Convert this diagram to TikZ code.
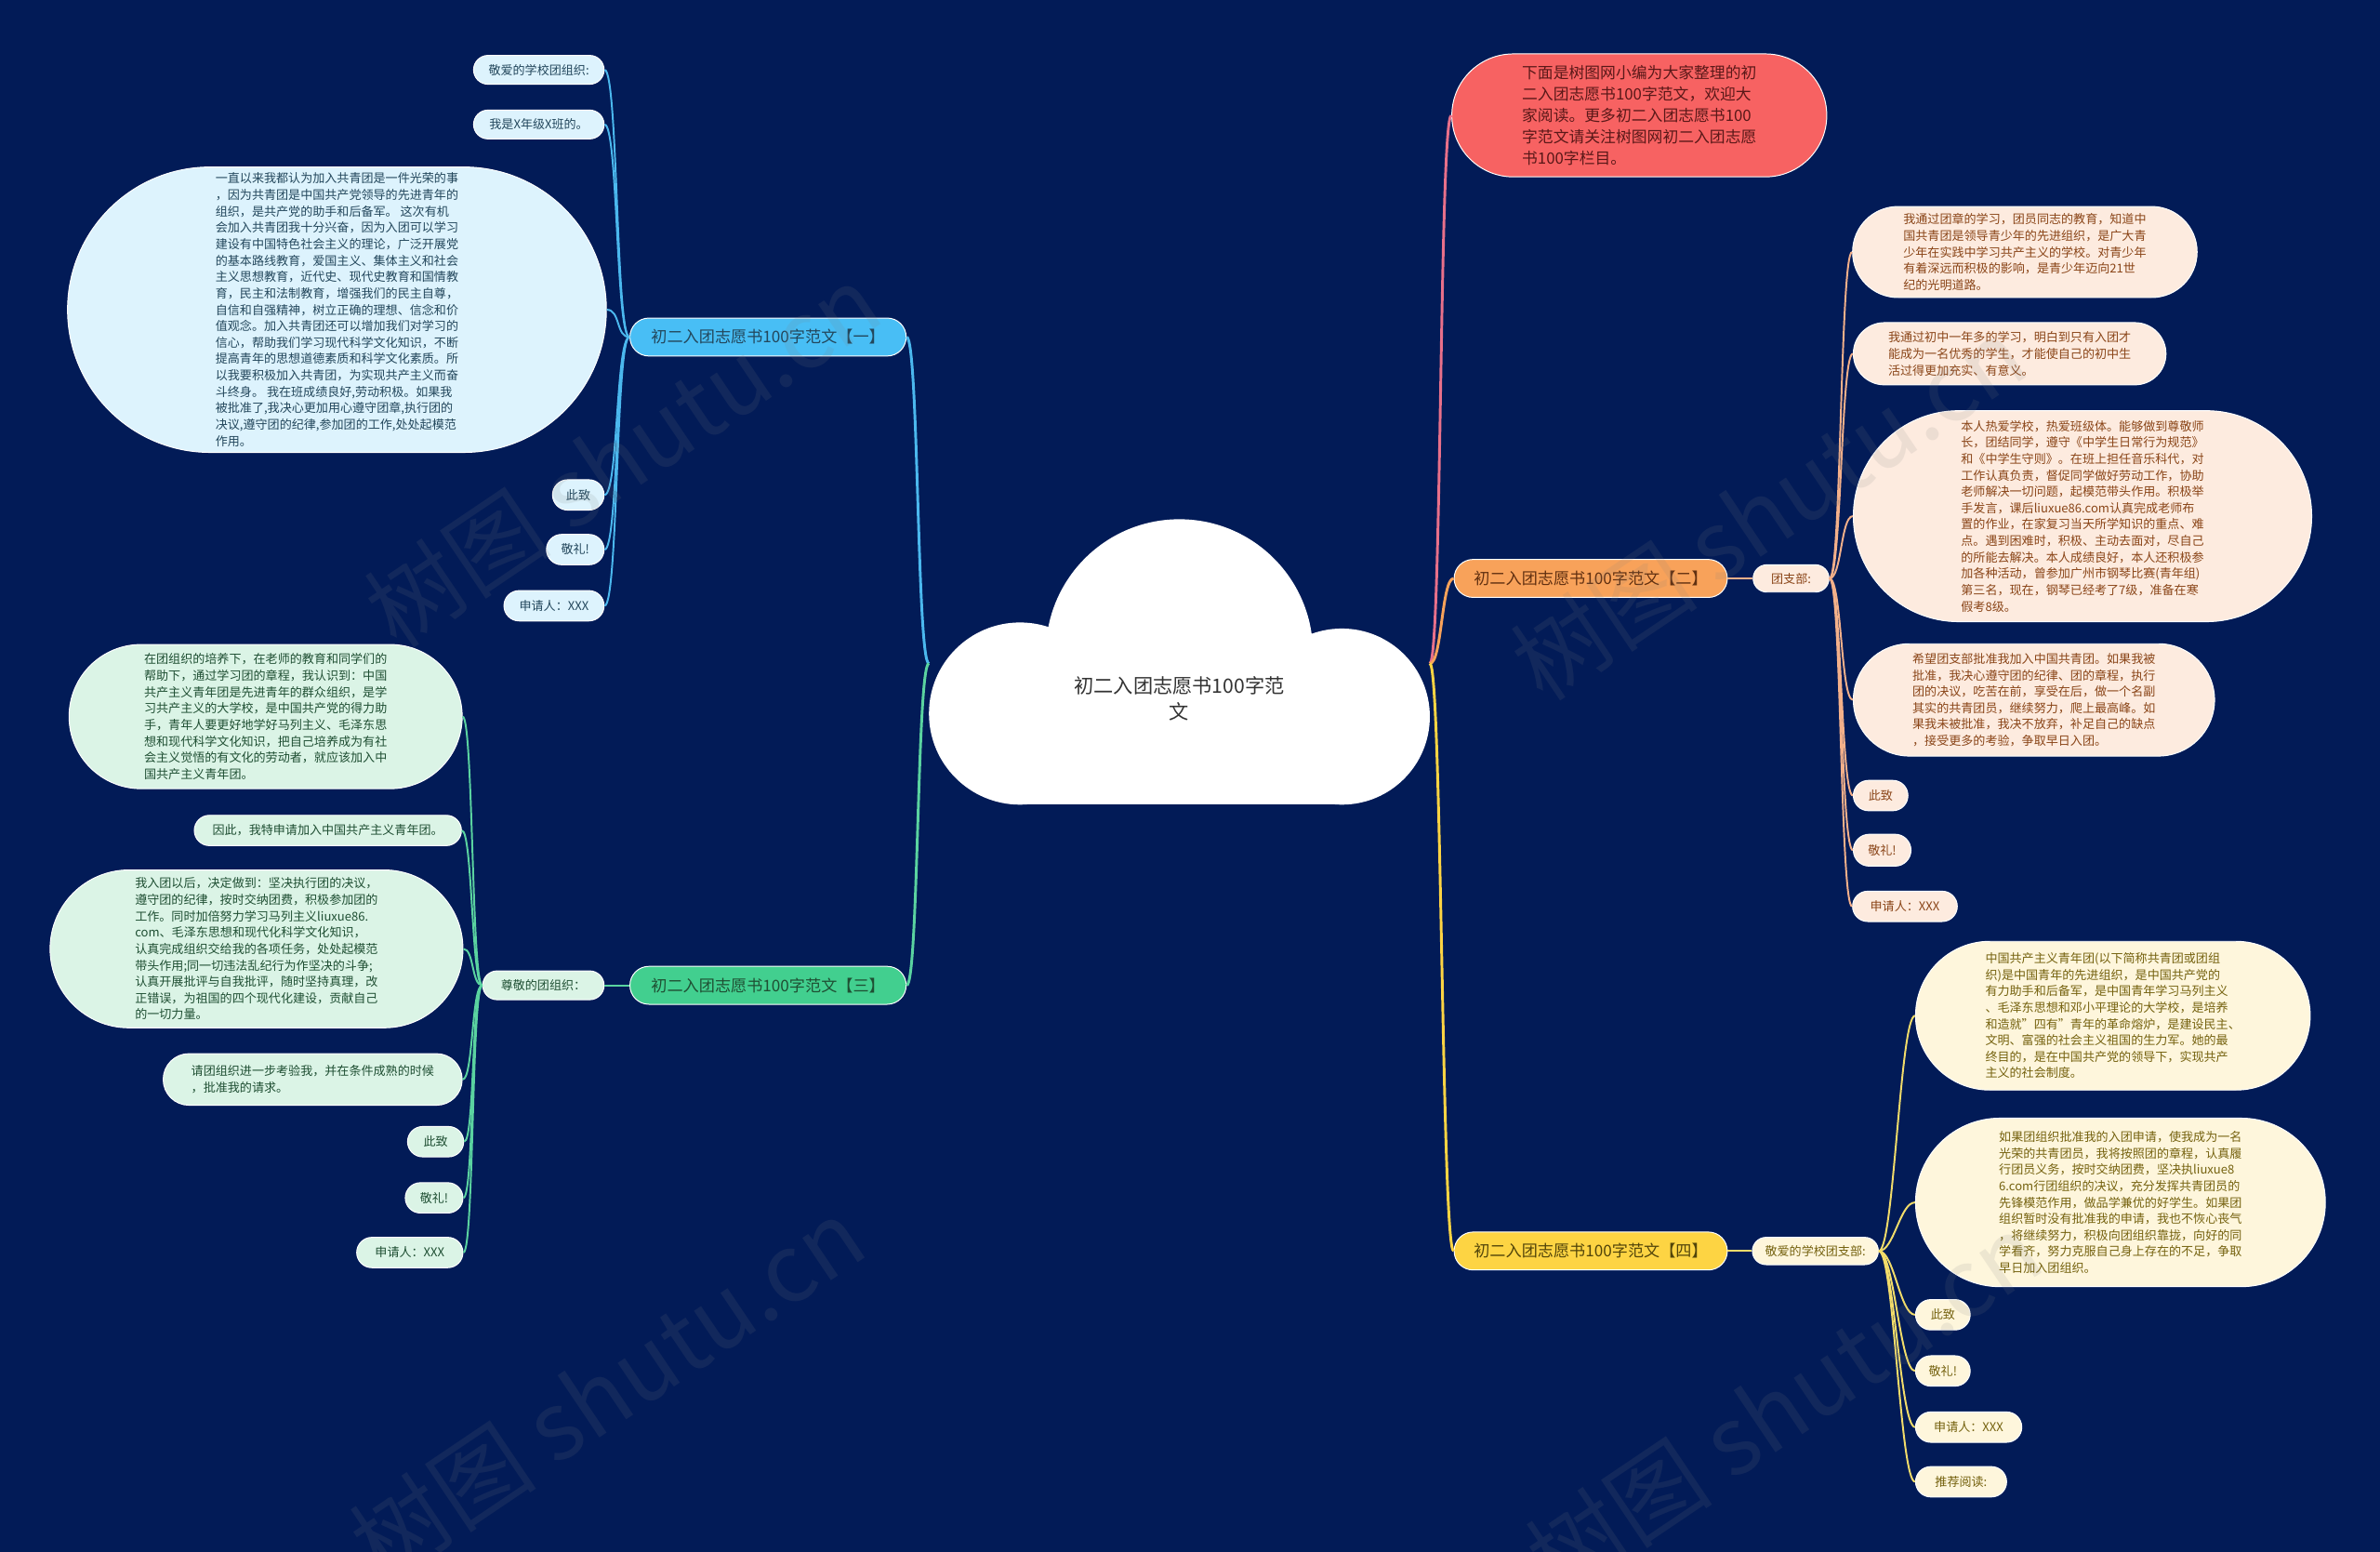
\documentclass[tikz,border=0pt]{standalone}
\usepackage{fontspec}
\setmainfont{Noto Sans CJK SC}
\usetikzlibrary{shapes.misc}
\definecolor{bgc}{HTML}{021B57}
\definecolor{bluef}{HTML}{48BEF5}
\definecolor{bluep}{HTML}{DDF3FD}
\definecolor{bluet}{HTML}{23475C}
\definecolor{bluel}{HTML}{4BB8EE}
\definecolor{greenf}{HTML}{42CF8F}
\definecolor{greenp}{HTML}{DBF4E6}
\definecolor{greent}{HTML}{1F4F33}
\definecolor{greenl}{HTML}{5AD3A0}
\definecolor{redf}{HTML}{F76262}
\definecolor{redt}{HTML}{5A1818}
\definecolor{redl}{HTML}{E8708A}
\definecolor{orangef}{HTML}{F8A25A}
\definecolor{orangep}{HTML}{FDEBDF}
\definecolor{oranget}{HTML}{8A4518}
\definecolor{orangel}{HTML}{F3B08A}
\definecolor{yellowf}{HTML}{FDD443}
\definecolor{yellowp}{HTML}{FEF6DC}
\definecolor{yellowt}{HTML}{75620F}
\definecolor{yellowl}{HTML}{F2DC6A}
\newcommand\fsmall{\fontsize{8}{10.8}\selectfont}
\newcommand\fbranch{\fontsize{10.5}{12}\selectfont}
\newcommand\fcenter{\fontsize{13}{17}\selectfont}
\newcommand\fredtxt{\fontsize{10.3}{14}\selectfont}
\newcommand\fwm{\fontsize{62}{62}\selectfont}
\tikzset{
  pill/.style={rounded rectangle, inner sep=0pt, align=left, draw=white, line width=0.6pt},
  bluebr/.style={pill, fill=bluef, text=bluet, font=\fbranch},
  bluech/.style={pill, fill=bluep, text=bluet, font=\fsmall},
  greenbr/.style={pill, fill=greenf, text=greent, font=\fbranch},
  greench/.style={pill, fill=greenp, text=greent, font=\fsmall},
  redbr/.style={pill, fill=redf, text=redt, font=\fredtxt},
  orangebr/.style={pill, fill=orangef, text=oranget!70!black, font=\fbranch},
  orangech/.style={pill, fill=orangep, text=oranget, font=\fsmall},
  yellowbr/.style={pill, fill=yellowf, text=yellowt!70!black, font=\fbranch},
  yellowch/.style={pill, fill=yellowp, text=yellowt, font=\fsmall},
  mainln/.style={line width=1.8pt},
  childln/.style={line width=1.2pt},
  wmark/.style={text=gray, opacity=0.13, font=\fwm, rotate=34}
}
\begin{document}
\begin{tikzpicture}[x=1pt,y=-1pt]
\fill[bgc] (0,0) rectangle (1568,1022);
\useasboundingbox (0,0) rectangle (1568,1022);

% central cloud
\fill[white] (777,430) circle[radius=88pt];
\fill[white] (672,470) circle[radius=60pt];
\fill[white] (884,472) circle[radius=58pt];
\fill[white] (672,440) rectangle (884,530);
\node[font=\fcenter, text=black!80, align=center] (center) at (777,460) {初二入团志愿书100字范\\文};
\coordinate (cl) at (612,437);
\coordinate (cr) at (942,437);

% ---------- branch 1 (blue) ----------
\node[bluebr, minimum width=182pt, minimum height=25pt] (b1) at (506,222) {初二入团志愿书100字范文【一】};
\node[bluech, minimum width=86pt, minimum height=19pt] (b1a) at (355,46) {敬爱的学校团组织:};
\node[bluech, minimum width=86pt, minimum height=19pt] (b1b) at (355,82) {我是X年级X班的。};
\node[bluech, minimum width=355pt, minimum height=188pt] (b1c) at (222,204) {一直以来我都认为加入共青团是一件光荣的事\\，因为共青团是中国共产党领导的先进青年的\\组织，是共产党的助手和后备军。 这次有机\\会加入共青团我十分兴奋，因为入团可以学习\\建设有中国特色社会主义的理论，广泛开展党\\的基本路线教育，爱国主义、集体主义和社会\\主义思想教育，近代史、现代史教育和国情教\\育，民主和法制教育，增强我们的民主自尊，\\自信和自强精神，树立正确的理想、信念和价\\值观念。加入共青团还可以增加我们对学习的\\信心，帮助我们学习现代科学文化知识，不断\\提高青年的思想道德素质和科学文化素质。所\\以我要积极加入共青团，为实现共产主义而奋\\斗终身。 我在班成绩良好,劳动积极。如果我\\被批准了,我决心更加用心遵守团章,执行团的\\决议,遵守团的纪律,参加团的工作,处处起模范\\作用。};
\node[bluech, minimum width=34pt, minimum height=20pt] (b1d) at (381,326) {此致};
\node[bluech, minimum width=38pt, minimum height=20pt] (b1e) at (379,362) {敬礼!};
\node[bluech, minimum width=66pt, minimum height=20pt] (b1f) at (365,399) {申请人：XXX};

\draw[bluel, mainln] (cl) .. controls +(-8,0) and +(8,0) .. (b1.east);
\foreach \c in {b1a,b1b,b1c,b1d,b1e,b1f}
  \draw[bluel, childln] (b1.west) .. controls +(-9,0) and +(9,0) .. (\c.east);

% ---------- branch 3 (green) ----------
\node[greenbr, minimum width=182pt, minimum height=25pt] (b3) at (506,649) {初二入团志愿书100字范文【三】};
\node[greench, minimum width=80pt, minimum height=19pt] (g0) at (358,649) {尊敬的团组织：};
\node[greench, minimum width=259pt, minimum height=95pt] (g1) at (175,472) {在团组织的培养下，在老师的教育和同学们的\\帮助下，通过学习团的章程，我认识到：中国\\共产主义青年团是先进青年的群众组织，是学\\习共产主义的大学校，是中国共产党的得力助\\手，青年人要更好地学好马列主义、毛泽东思\\想和现代科学文化知识，把自己培养成为有社\\会主义觉悟的有文化的劳动者，就应该加入中\\国共产主义青年团。};
\node[greench, minimum width=176pt, minimum height=20pt] (g2) at (216,547) {因此，我特申请加入中国共产主义青年团。};
\node[greench, minimum width=272pt, minimum height=104pt] (g3) at (169,625) {我入团以后，决定做到：坚决执行团的决议，\\遵守团的纪律，按时交纳团费，积极参加团的\\工作。同时加倍努力学习马列主义liuxue86.\\com、毛泽东思想和现代化科学文化知识，\\认真完成组织交给我的各项任务，处处起模范\\带头作用;同一切违法乱纪行为作坚决的斗争;\\认真开展批评与自我批评，随时坚持真理，改\\正错误，为祖国的四个现代化建设，贡献自己\\的一切力量。};
\node[greench, minimum width=197pt, minimum height=34pt] (g4) at (206,711) {请团组织进一步考验我，并在条件成熟的时候\\，批准我的请求。};
\node[greench, minimum width=37pt, minimum height=20pt] (g5) at (287,752) {此致};
\node[greench, minimum width=38pt, minimum height=20pt] (g6) at (286,789) {敬礼!};
\node[greench, minimum width=70pt, minimum height=20pt] (g7) at (270,825) {申请人：XXX};

\draw[greenl, mainln] (cl) .. controls +(-8,0) and +(8,0) .. (b3.east);
\draw[greenl, childln] (b3.west) -- (g0.east);
\foreach \c in {g1,g2,g3,g4,g5,g6,g7}
  \draw[greenl, childln] (g0.west) .. controls +(-7,0) and +(7,0) .. (\c.east);

% ---------- red node ----------
\node[redbr, minimum width=247pt, minimum height=81pt] (r1) at (1080,76) {下面是树图网小编为大家整理的初\\二入团志愿书100字范文，欢迎大\\家阅读。更多初二入团志愿书100\\字范文请关注树图网初二入团志愿\\书100字栏目。};
\draw[redl, mainln] (cr) .. controls +(8,0) and +(-8,0) .. (r1.west);

% ---------- branch 2 (orange) ----------
\node[orangebr, minimum width=180pt, minimum height=25pt] (b2) at (1048,381) {初二入团志愿书100字范文【二】};
\node[orangech, minimum width=50pt, minimum height=18pt] (o0) at (1180,381) {团支部:};
\node[orangech, minimum width=227pt, minimum height=60pt] (o1) at (1334,166) {我通过团章的学习，团员同志的教育，知道中\\国共青团是领导青少年的先进组织，是广大青\\少年在实践中学习共产主义的学校。对青少年\\有着深远而积极的影响，是青少年迈向21世\\纪的光明道路。};
\node[orangech, minimum width=206pt, minimum height=41pt] (o2) at (1324,233) {我通过初中一年多的学习，明白到只有入团才\\能成为一名优秀的学生，才能使自己的初中生\\活过得更加充实、有意义。};
\node[orangech, minimum width=302pt, minimum height=139pt] (o3) at (1372,340) {本人热爱学校，热爱班级体。能够做到尊敬师\\长，团结同学，遵守《中学生日常行为规范》\\和《中学生守则》。在班上担任音乐科代，对\\工作认真负责，督促同学做好劳动工作，协助\\老师解决一切问题，起模范带头作用。积极举\\手发言，课后liuxue86.com认真完成老师布\\置的作业，在家复习当天所学知识的重点、难\\点。遇到困难时，积极、主动去面对，尽自己\\的所能去解决。本人成绩良好，本人还积极参\\加各种活动，曾参加广州市钢琴比赛(青年组)\\第三名，现在，钢琴已经考了7级，准备在寒\\假考8级。};
\node[orangech, minimum width=238pt, minimum height=74pt] (o4) at (1340,461) {希望团支部批准我加入中国共青团。如果我被\\批准，我决心遵守团的纪律、团的章程，执行\\团的决议，吃苦在前，享受在后，做一个名副\\其实的共青团员，继续努力，爬上最高峰。如\\果我未被批准，我决不放弃，补足自己的缺点\\，接受更多的考验，争取早日入团。};
\node[orangech, minimum width=36pt, minimum height=20pt] (o5) at (1239,524) {此致};
\node[orangech, minimum width=38pt, minimum height=21pt] (o6) at (1240,560) {敬礼!};
\node[orangech, minimum width=69pt, minimum height=20pt] (o7) at (1255,597) {申请人：XXX};

\draw[orangef, mainln] (cr) .. controls +(8,0) and +(-8,0) .. (b2.west);
\draw[orangel, childln] (b2.east) -- (o0.west);
\foreach \c in {o1,o2,o3,o4,o5,o6,o7}
  \draw[orangel, childln] (o0.east) .. controls +(8,0) and +(-8,0) .. (\c.west);

% ---------- branch 4 (yellow) ----------
\node[yellowbr, minimum width=180pt, minimum height=25pt] (b4) at (1048,824) {初二入团志愿书100字范文【四】};
\node[yellowch, minimum width=83pt, minimum height=18pt] (y0) at (1196,824) {敬爱的学校团支部:};
\node[yellowch, minimum width=260pt, minimum height=98pt] (y1) at (1392,669) {中国共产主义青年团(以下简称共青团或团组\\织)是中国青年的先进组织，是中国共产党的\\有力助手和后备军，是中国青年学习马列主义\\、毛泽东思想和邓小平理论的大学校，是培养\\和造就"四有"青年的革命熔炉，是建设民主、\\文明、富强的社会主义祖国的生力军。她的最\\终目的，是在中国共产党的领导下，实现共产\\主义的社会制度。};
\node[yellowch, minimum width=270pt, minimum height=111pt] (y2) at (1397,792) {如果团组织批准我的入团申请，使我成为一名\\光荣的共青团员，我将按照团的章程，认真履\\行团员义务，按时交纳团费，坚决执liuxue8\\6.com行团组织的决议，充分发挥共青团员的\\先锋模范作用，做品学兼优的好学生。如果团\\组织暂时没有批准我的申请，我也不恢心丧气\\，将继续努力，积极向团组织靠拢，向好的同\\学看齐，努力克服自己身上存在的不足，争取\\早日加入团组织。};
\node[yellowch, minimum width=36pt, minimum height=20pt] (y3) at (1280,866) {此致};
\node[yellowch, minimum width=36pt, minimum height=20pt] (y4) at (1280,903) {敬礼!};
\node[yellowch, minimum width=70pt, minimum height=20pt] (y5) at (1297,940) {申请人：XXX};
\node[yellowch, minimum width=60pt, minimum height=20pt] (y6) at (1292,976) {推荐阅读:};

\draw[yellowf, mainln] (cr) .. controls +(8,0) and +(-8,0) .. (b4.west);
\draw[yellowl, childln] (b4.east) -- (y0.west);
\foreach \c in {y1,y2,y3,y4,y5,y6}
  \draw[yellowl, childln] (y0.east) .. controls +(10,0) and +(-10,0) .. (\c.west);

% ---------- watermarks ----------
\node[wmark] (wm1) at (410,300) {树图 shutu.cn};
\node[wmark] (wm2) at (400,915) {树图 shutu.cn};
\node[wmark] (wm3) at (1165,335) {树图 shutu.cn};
\node[wmark] (wm4) at (1175,925) {树图 shutu.cn};
\end{tikzpicture}
\end{document}
